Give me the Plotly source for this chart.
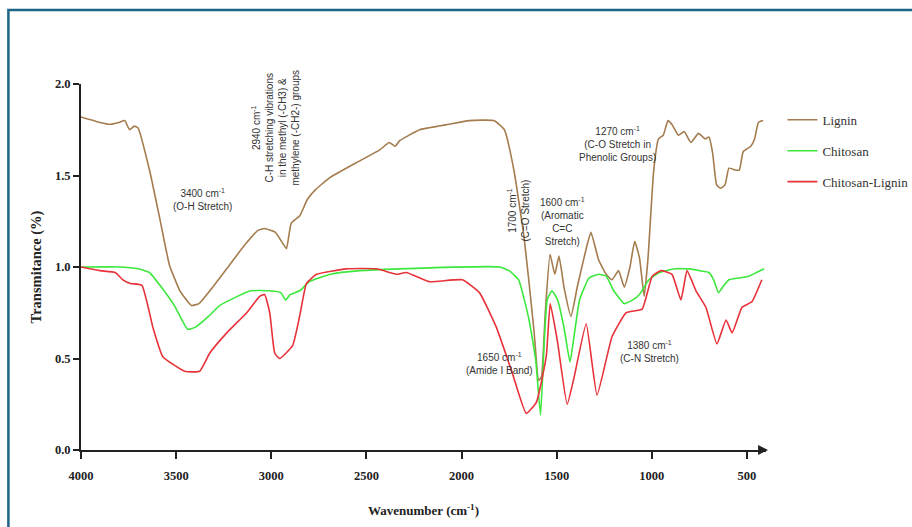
import plotly.graph_objects as go

# ---- data ----
lignin_wn = [4000, 3900, 3850, 3800, 3770, 3745, 3720, 3700, 3640, 3585, 3535, 3480, 3420, 3380,
             3300, 3220, 3140, 3070, 3035, 2980, 2940, 2920, 2895, 2850, 2810, 2770, 2690, 2535,
             2430, 2380, 2350, 2325, 2220, 2065, 1960, 1830, 1775, 1725, 1670, 1620, 1595, 1580,
             1560, 1535, 1510, 1488, 1460, 1425, 1390, 1345, 1320, 1280, 1240, 1210, 1175, 1145,
             1115, 1090, 1065, 1040, 1020, 990, 965, 940, 915, 895, 860, 830, 795, 755, 720, 700,
             680, 660, 640, 615, 595, 560, 540, 520, 480, 460, 440, 415]
lignin_t = [1.82, 1.79, 1.78, 1.79, 1.80, 1.75, 1.77, 1.76, 1.53, 1.26, 1.01, 0.87, 0.79, 0.80,
            0.90, 1.01, 1.12, 1.20, 1.21, 1.19, 1.13, 1.10, 1.24, 1.28, 1.37, 1.42, 1.49, 1.58,
            1.64, 1.68, 1.66, 1.69, 1.75, 1.78, 1.80, 1.80, 1.75, 1.53, 1.15, 0.66, 0.38, 0.40,
            0.75, 1.07, 0.96, 1.06, 0.88, 0.73, 0.90, 1.10, 1.19, 1.04, 0.96, 0.93, 0.98, 0.89,
            1.00, 1.14, 1.05, 0.84, 1.05, 1.53, 1.70, 1.72, 1.80, 1.78, 1.72, 1.74, 1.68, 1.73, 1.70, 1.71,
            1.62, 1.45, 1.43, 1.45, 1.54, 1.53, 1.53, 1.63, 1.66, 1.70, 1.79, 1.80]

chitosan_wn = [4000, 3800, 3700, 3640, 3585, 3510, 3440, 3400, 3330, 3270, 3110, 3010, 2950, 2925,
               2900, 2850, 2800, 2690, 2535, 2330, 1800, 1750, 1700, 1645, 1610, 1585, 1565, 1550,
               1525, 1495, 1460, 1430, 1405, 1380, 1330, 1280, 1240, 1200, 1145, 1100, 1065, 1015,
               960, 880, 800, 750, 700, 675, 650, 620, 595, 540, 490, 450, 410]
chitosan_t = [1.00, 1.00, 0.99, 0.97, 0.90, 0.79, 0.66, 0.67, 0.73, 0.79, 0.87, 0.87, 0.86, 0.82,
              0.85, 0.87, 0.92, 0.96, 0.98, 0.99, 1.00, 0.98, 0.93, 0.71, 0.49, 0.19, 0.60, 0.82,
              0.87, 0.82, 0.66, 0.48, 0.65, 0.82, 0.94, 0.96, 0.95, 0.87, 0.80, 0.82, 0.85, 0.93,
              0.97, 0.99, 0.99, 0.98, 0.97, 0.93, 0.86, 0.90, 0.93, 0.94, 0.95, 0.97, 0.99]

cl_wn = [4000, 3900, 3820, 3780, 3740, 3680, 3622, 3570, 3455, 3376, 3323, 3234, 3129, 3061, 3035,
         3008, 2982, 2956, 2888, 2851, 2815, 2762, 2605, 2447, 2342, 2290, 2170, 1996, 1906, 1817,
         1733, 1660, 1607, 1555, 1534, 1497, 1445, 1408, 1345, 1288, 1209, 1135, 1051, 998, 952,
         894, 847, 815, 768, 716, 658, 610, 578, 526, 474, 422]
cl_t = [1.00, 0.98, 0.97, 0.93, 0.91, 0.90, 0.67, 0.51, 0.43, 0.43, 0.53, 0.64, 0.75, 0.84, 0.85,
        0.75, 0.53, 0.50, 0.57, 0.73, 0.91, 0.96, 0.99, 0.99, 0.96, 0.97, 0.92, 0.93, 0.86, 0.67,
        0.42, 0.20, 0.26, 0.51, 0.80, 0.60, 0.25, 0.40, 0.69, 0.30, 0.62, 0.75, 0.77, 0.95, 0.98,
        0.96, 0.82, 0.98, 0.87, 0.78, 0.58, 0.71, 0.64, 0.78, 0.81, 0.93]

series_names = ["Lignin", "Chitosan", "Chitosan-Lignin"]
series_colors = ["#A47C4E", "#3CE83C", "#E8323A"]

x_ticks = [4000, 3500, 3000, 2500, 2000, 1500, 1000, 500]
y_ticks = [0.0, 0.5, 1.0, 1.5, 2.0]
y_tick_labels = ["0.0", "0.5", "1.0", "1.5", "2.0"]

ann_text = [
    "3400 cm<sup>-1</sup><br>(O-H Stretch)",
    "2940 cm<sup>-1</sup><br>C-H stretching vibrations<br>in the methyl (-CH3) &amp;<br>methylene (-CH2-) groups",
    "1700 cm<sup>-1</sup><br>(C=O Stretch)",
    "1600 cm<sup>-1</sup><br>(Aromatic<br>C=C<br>Stretch)",
    "1270 cm<sup>-1</sup><br>(C-O Stretch in<br>Phenolic Groups)",
    "1650 cm<sup>-1</sup><br>(Amide I Band)",
    "1380 cm<sup>-1</sup><br>(C-N Stretch)",
]
ann_x = [3360, 2977, 1702, 1471, 1182, 1801, 1014]
ann_y = [1.37, 1.76, 1.31, 1.25, 1.67, 0.475, 0.54]
ann_rot = [0, -90, -90, 0, 0, 0, 0]

fig = go.Figure()
for wn, t, name, col in zip([lignin_wn, chitosan_wn, cl_wn], [lignin_t, chitosan_t, cl_t],
                            series_names, series_colors):
    fig.add_trace(go.Scatter(x=wn, y=t, mode="lines", name=name, legendgroup=name,
                             line=dict(color=col, width=1.6, shape="spline", smoothing=0.4)))

for txt, ax_, ay_, rot in zip(ann_text, ann_x, ann_y, ann_rot):
    fig.add_annotation(x=ax_, y=ay_, xref="x", yref="y", text=txt, showarrow=False,
                       textangle=rot, font=dict(family="Liberation Sans, Arial", size=10, color="#333333"),
                       align="center")

serif = "Liberation Serif, Times New Roman"
fig.update_layout(
    width=912, height=527,
    margin=dict(l=81, r=146, t=84, b=77, autoexpand=False),
    paper_bgcolor="white", plot_bgcolor="white",
    showlegend=True,
    legend=dict(x=1.024, y=0.943, xanchor="left", yanchor="top", bgcolor="rgba(0,0,0,0)",
                font=dict(family=serif, size=13, color="#333333"),
                tracegroupgap=11, itemwidth=30),
    xaxis=dict(range=[4000, 400], tickvals=x_ticks, ticktext=["<b>%d</b>" % v for v in x_ticks],
               ticks="outside", ticklen=7, tickwidth=1.5, ticklabelstandoff=6,
               tickcolor="#222", showline=True, linecolor="#222", linewidth=2, showgrid=False,
               zeroline=False, tickfont=dict(family=serif, size=12.5, color="#222"),
               title=dict(text="<b>Wavenumber (cm<sup>-1</sup>)</b>",
                          font=dict(family=serif, size=13, color="#222"), standoff=24)),
    yaxis=dict(range=[0, 2.0], tickvals=y_ticks, ticktext=["<b>%s</b>" % s for s in y_tick_labels],
               ticks="outside", ticklen=6, tickwidth=1.5, tickcolor="#222", showline=True,
               linecolor="#222", linewidth=2, showgrid=False, zeroline=False,
               tickfont=dict(family=serif, size=12.5, color="#222"),
               title=dict(text="<b>Transmitance (%)</b>", font=dict(family=serif, size=14.5, color="#222"),
                          standoff=10)),
)

# outer frame border
fig.add_shape(type="rect", xref="paper", yref="paper", x0=-0.106, y0=1.202, x1=1.6, y1=-0.5,
              line=dict(color="#1C6587", width=2.5), fillcolor="rgba(0,0,0,0)", layer="above")
# arrow tip at the end of the x axis
fig.add_annotation(xref="paper", yref="paper", x=1.003, y=0, ax=-10, ay=0, showarrow=True,
                   arrowhead=2, arrowsize=1, arrowwidth=2, arrowcolor="#222", text="")

fig.write_html("out.html")
